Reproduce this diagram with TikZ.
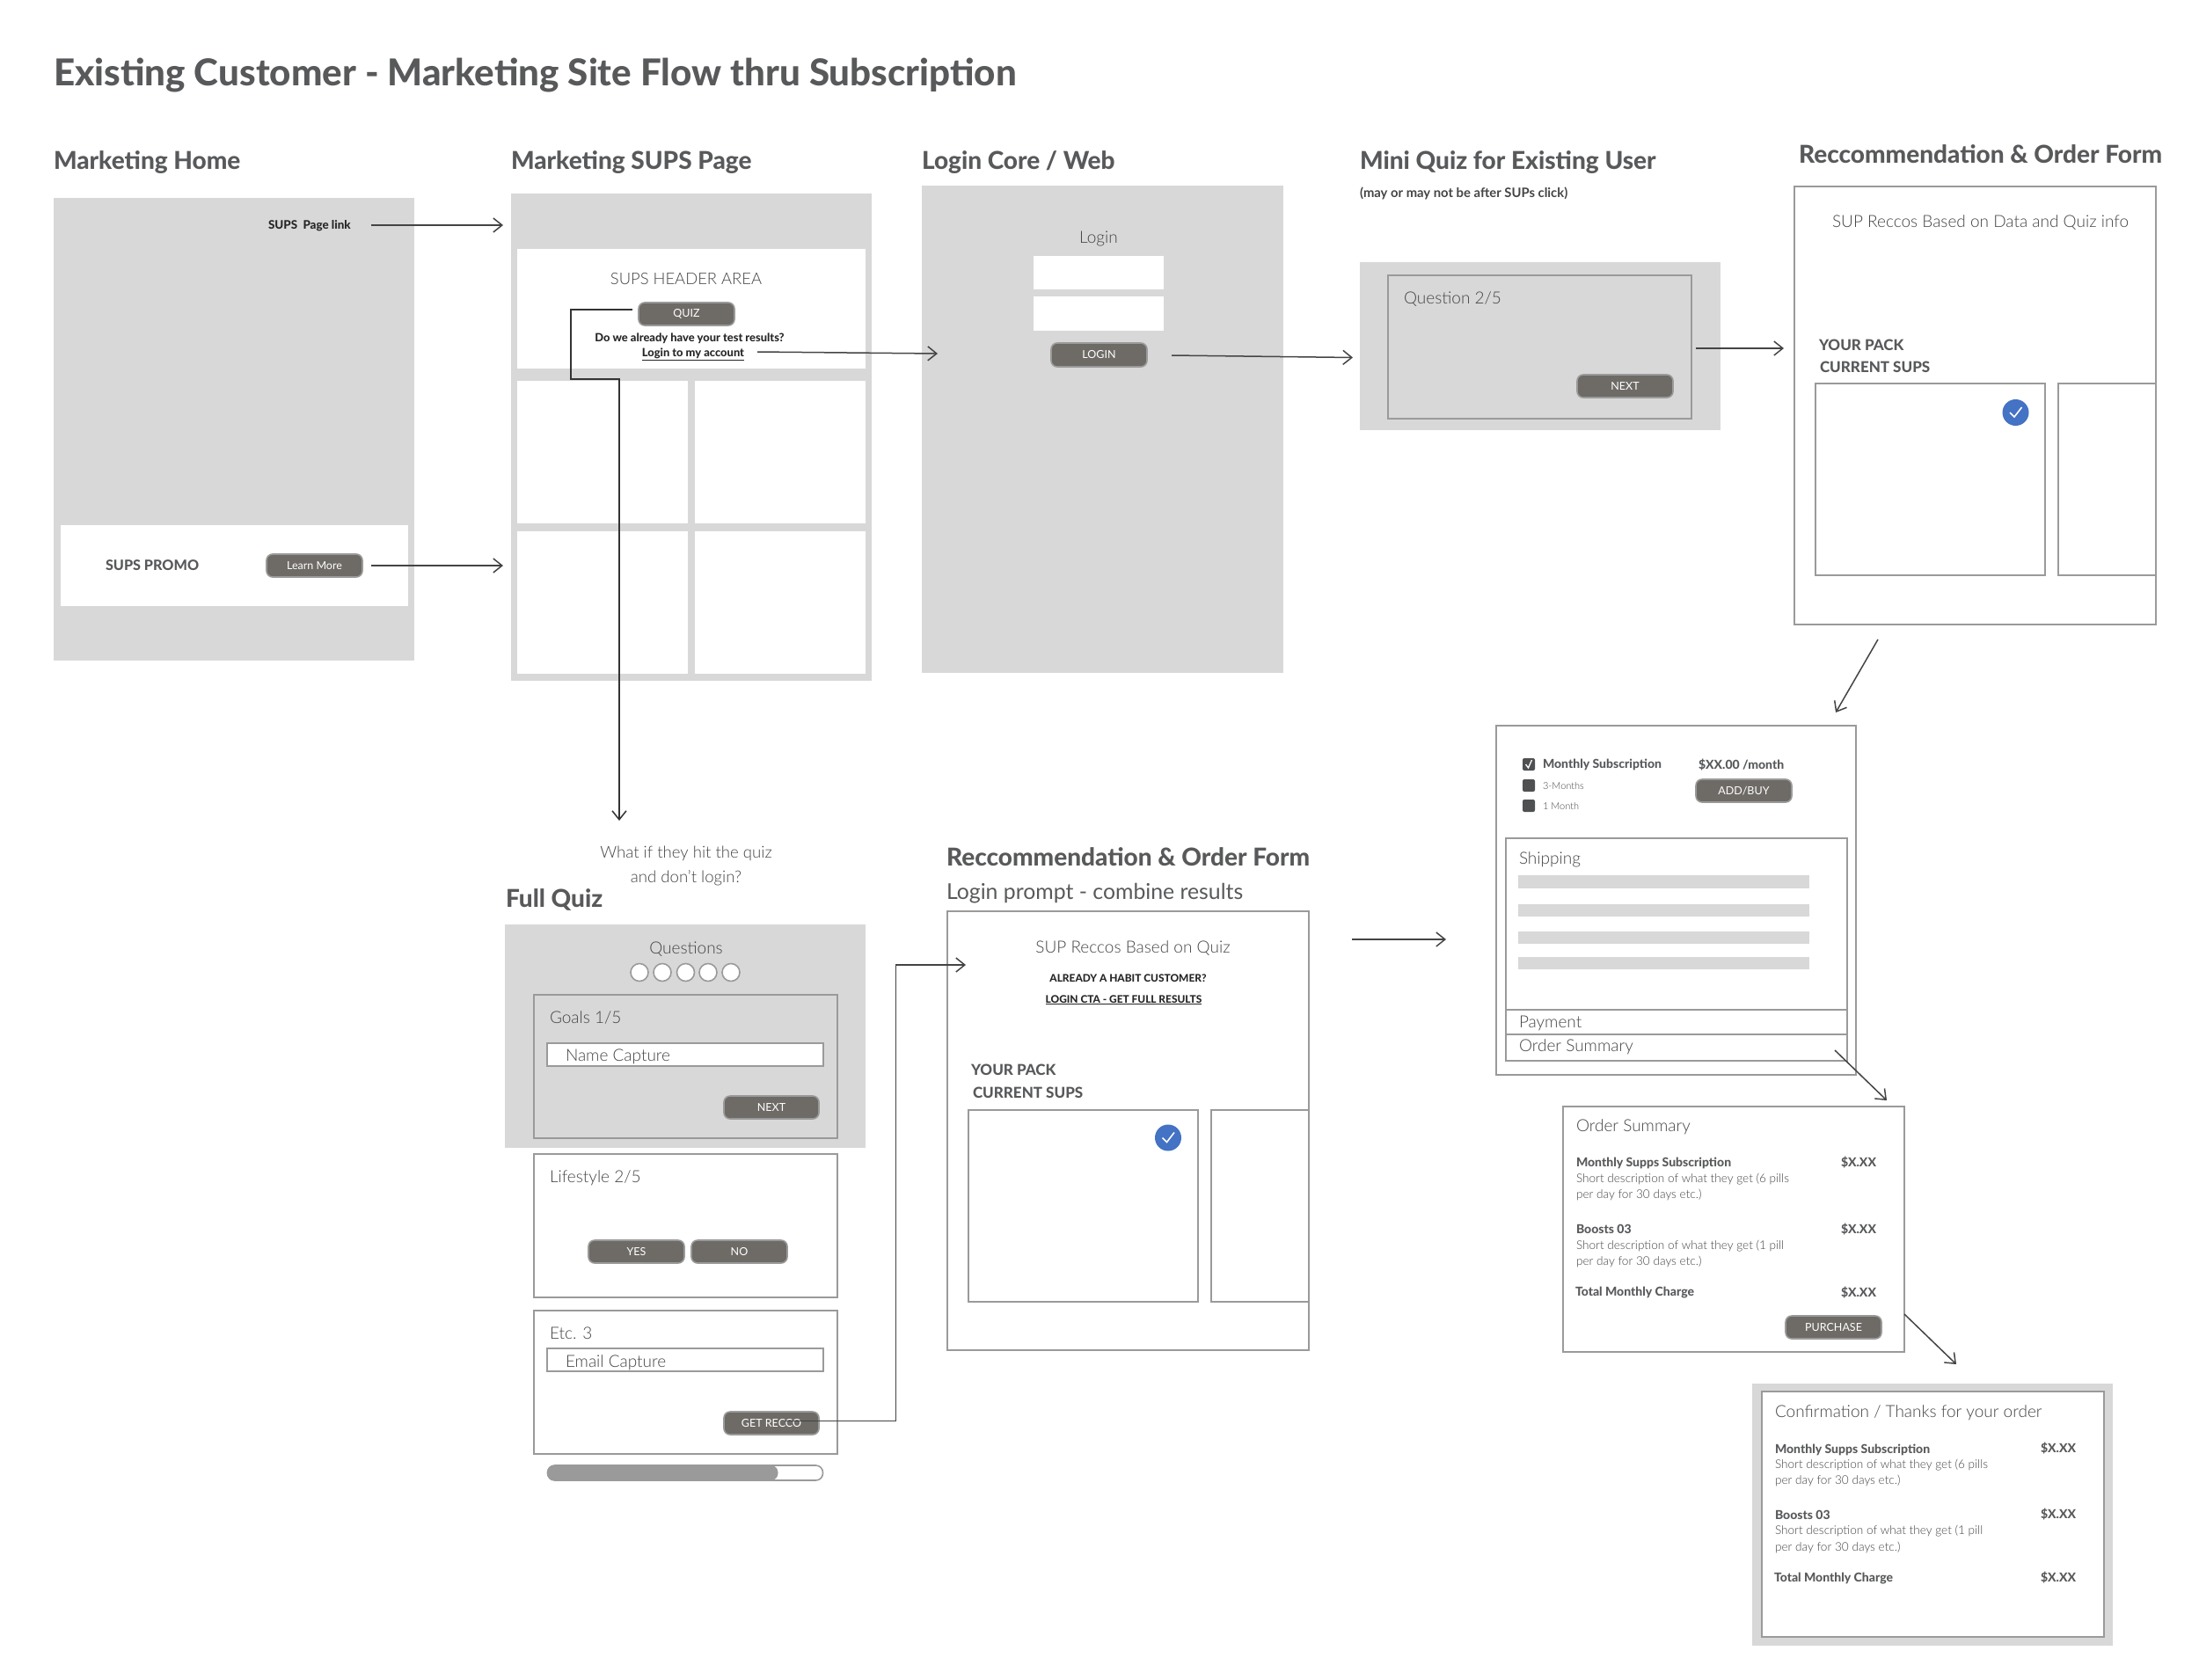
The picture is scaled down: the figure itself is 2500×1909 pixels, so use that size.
\documentclass[tikz,border=0pt]{standalone}
\usepackage{fontspec}
\usetikzlibrary{arrows.meta}
\setmainfont{Lato}
\newfontfamily\lightfont{Lato Light}
\newfontfamily\heavyfont{Lato Heavy}
\definecolor{panelgray}{HTML}{D8D8D8}
\definecolor{edgegray}{HTML}{9A9A9A}
\definecolor{btnfill}{HTML}{6E6B67}
\definecolor{inkhead}{HTML}{58595B}
\definecolor{inkbody}{HTML}{444444}
\definecolor{inkline}{HTML}{444444}
\definecolor{checkblue}{HTML}{4472C4}
\newcommand{\bx}[6]{\node[inner sep=0pt,outer sep=0pt,minimum width={(#5-#3)*1pt},minimum height={(#6-#4)*1pt},anchor=north west,#1] (#2) at (#3,#4) {};}
\newcommand{\btn}[6]{\node[buttonbox,minimum width={(#4-#2)*1pt},minimum height={(#5-#3)*1pt},anchor=north west] (#1) at (#2,#3) {#6};}
\newcommand{\tx}[5]{\node[#1] (#2) at (#3,#4) {#5};}
\newcommand{\chk}[3]{\node[checkdot] (#1) at (#2,#3) {}; \draw[white,line width=1.6pt] ([shift={(-6.5pt,0pt)}]#1.center) -- ([shift={(-1.5pt,-5pt)}]#1.center) -- ([shift={(7pt,6pt)}]#1.center);}
\tikzset{
  panel/.style={fill=panelgray},
  whitepanel/.style={fill=white},
  wire/.style={draw=edgegray,line width=1.8pt},
  wirewhite/.style={draw=edgegray,line width=1.8pt,fill=white},
  buttonbox/.style={rectangle,rounded corners=7pt,fill=btnfill,draw=edgegray,line width=1.6pt,inner sep=0pt,outer sep=0pt,text=white,font=\fontsize{12.5}{15}\selectfont},
  txtbase/.style={inner sep=0pt,outer sep=0pt,anchor=west,yshift=-0.8pt,execute at begin node={\vphantom{Ag}}},
  ttitle/.style={txtbase,text=inkhead,font=\heavyfont\fontsize{42.1}{48}\selectfont},
  thead/.style={txtbase,text=inkhead,font=\heavyfont\fontsize{28}{34}\selectfont},
  tprompt/.style={txtbase,text=inkhead,font=\fontsize{24.8}{30}\selectfont},
  tbody/.style={txtbase,text=inkbody,font=\lightfont\fontsize{19}{24}\selectfont},
  tbodyc/.style={tbody,anchor=center},
  tdesc/.style={txtbase,text=inkbody,font=\lightfont\fontsize{13.6}{17}\selectfont},
  tstrong/.style={txtbase,text=inkhead,font=\heavyfont\fontsize{14}{17}\selectfont},
  tpack/.style={txtbase,text=inkhead,font=\heavyfont\fontsize{17}{22}\selectfont},
  tblack/.style={txtbase,anchor=center,text=black!85,font=\heavyfont\fontsize{12.9}{15}\selectfont},
  tcaps/.style={tblack,font=\heavyfont\fontsize{11.9}{15}\selectfont},
  flow/.style={draw=inkline,line width=1.5pt,-{Straight Barb[length=10pt,width=16pt,line width=1.5pt]}},
  checkdot/.style={circle,fill=checkblue,draw=none,minimum size=30pt,inner sep=0pt,outer sep=0pt},
  stepdot/.style={circle,fill=white,draw=edgegray,line width=1.6pt,minimum size=20pt,inner sep=0pt,outer sep=0pt},
  squaremark/.style={rectangle,rounded corners=2pt,fill=inkhead!90!black,minimum size=14pt,inner sep=0pt,outer sep=0pt}
}
\begin{document}
\begin{tikzpicture}[x=1pt,y=-1pt]
\useasboundingbox (0,0) rectangle (2500,1909);
% Titles
\tx{ttitle}{maintitle}{61}{85}{Existing Customer - Marketing Site Flow thru Subscription}
\tx{thead}{hhome}{61}{184}{Marketing Home}
\tx{thead}{hsups}{581}{184}{Marketing SUPS Page}
\tx{thead}{hlogin}{1048}{184}{Login Core / Web}
\tx{thead}{hmini}{1546}{184}{Mini Quiz for Existing User}
\tx{tdesc,font=\bfseries\fontsize{14.8}{17}\selectfont}{hminisub}{1546}{219}{(may or may not be after SUPs click)}
\tx{thead}{hreco}{2045}{177}{Reccommendation \& Order Form}
% Marketing home
\bx{panel}{homepanel}{61}{225}{471}{751}
\bx{whitepanel}{promo}{69}{597}{464}{689}
\tx{tstrong,font=\heavyfont\fontsize{16.2}{18}\selectfont}{promotext}{120}{643}{SUPS PROMO}
\btn{learnmore}{303}{630}{412}{656}{Learn More}
\tx{tblack,anchor=west,font=\heavyfont\fontsize{13.4}{15}\selectfont}{supslink}{305}{256}{SUPS~ Page link}
% Marketing SUPS page
\bx{panel}{supspage}{581}{220}{991}{774}
\bx{whitepanel}{supshead}{588}{283}{984}{419}
\bx{whitepanel}{cella}{588}{433}{782}{595}
\bx{whitepanel}{cellb}{790}{433}{984}{595}
\bx{whitepanel}{cellc}{588}{604}{782}{766}
\bx{whitepanel}{celld}{790}{604}{984}{766}
\tx{tbodyc,font=\lightfont\fontsize{18.4}{22}\selectfont}{headarea}{780}{318}{SUPS HEADER AREA}
\btn{quizbtn}{726}{344}{835}{370}{QUIZ}
\tx{tblack}{testq}{784}{384}{Do we already have your test results?}
\tx{tblack}{loginlink}{788}{402}{\underline{Login to my account}}
% Login
\bx{panel}{loginpanel}{1048}{211}{1459}{765}
\tx{tbodyc}{logintext}{1249}{271}{Login}
\bx{whitepanel}{inputa}{1175}{291}{1323}{329}
\bx{whitepanel}{inputb}{1175}{337}{1323}{376}
\btn{loginbtn}{1195}{390}{1304}{417}{LOGIN}
% Mini quiz
\bx{panel}{minipanel}{1546}{298}{1956}{489}
\bx{wire}{minibox}{1578}{313}{1923}{476}
\tx{tbody}{miniq}{1596}{340}{Question 2/5}
\btn{mininext}{1793}{426}{1902}{452}{NEXT}
% Recommendation top
\bx{wirewhite}{recotop}{2040}{212}{2451}{710}
\tx{tbody}{recotoptext}{2083}{253}{SUP Reccos Based on Data and Quiz info}
\tx{tpack}{packa}{2068}{393}{YOUR PACK}
\tx{tpack}{packb}{2069}{418}{CURRENT SUPS}
\bx{wire}{topcarda}{2064}{436}{2325}{654}
\bx{wire}{topcardb}{2340}{436}{2451}{654}
\chk{topcheck}{2291.5}{469}
% Checkout form
\bx{wirewhite}{checkout}{1701}{825}{2110}{1222}
\bx{wire}{checkinner}{1712}{953}{2100}{1206}
\bx{wire}{rowpay}{1712}{1148}{2100}{1176}
\node[squaremark] (boxa) at (1738,869) {};
\draw[white,line width=1.3pt] ([shift={(-3.5pt,0pt)}]boxa.center) -- ([shift={(-0.5pt,-4pt)}]boxa.center) -- ([shift={(3.5pt,5pt)}]boxa.center);
\node[squaremark] (boxb) at (1738,893) {};
\node[squaremark] (boxc) at (1738,916) {};
\tx{tstrong}{planmonthly}{1754}{869}{Monthly Subscription}
\tx{tstrong}{planprice}{1931}{869}{\$XX.00 /month}
\tx{tdesc,font=\lightfont\fontsize{11}{15}\selectfont}{planthree}{1754}{894}{3-Months}
\tx{tdesc,font=\lightfont\fontsize{11}{15}\selectfont}{planone}{1754}{917}{1 Month}
\btn{addbuy}{1928}{886}{2037}{912}{ADD/BUY}
\tx{tbody}{shippingtext}{1727}{977}{Shipping}
\bx{panel}{bara}{1726}{995}{2057}{1010}
\bx{panel}{barb}{1726}{1028}{2057}{1042}
\bx{panel}{barc}{1726}{1059}{2057}{1073}
\bx{panel}{bard}{1726}{1088}{2057}{1102}
\tx{tbody}{paymenttext}{1727}{1163}{Payment}
\tx{tbody}{ordertext}{1727}{1190}{Order Summary}
% Order summary
\bx{wirewhite}{summary}{1777}{1258}{2165}{1537}
\tx{tbody}{sumtitle}{1792}{1281}{Order Summary}
\tx{tstrong}{sumsub}{1792}{1322}{Monthly Supps Subscription}
\tx{tdesc}{sumsuba}{1792}{1340}{Short description of what they get (6 pills}
\tx{tdesc}{sumsubb}{1792}{1358}{per day for 30 days etc.)}
\tx{tstrong}{sumsubp}{2093}{1321}{\$X.XX}
\tx{tstrong}{sumboost}{1792}{1398}{Boosts 03}
\tx{tdesc}{sumboosta}{1792}{1416}{Short description of what they get (1 pill}
\tx{tdesc}{sumboostb}{1792}{1434}{per day for 30 days etc.)}
\tx{tstrong}{sumboostp}{2093}{1397}{\$X.XX}
\tx{tstrong}{sumtotal}{1791}{1469}{Total Monthly Charge}
\tx{tstrong}{sumtotalp}{2093}{1469}{\$X.XX}
\btn{purchase}{2030}{1496}{2139}{1522}{PURCHASE}
% Confirmation
\bx{panel}{confpanel}{1992}{1573}{2402}{1871}
\bx{wirewhite}{confbox}{2003}{1582}{2392}{1861}
\tx{tbody}{conftitle}{2018}{1606}{Confirmation / Thanks for your order}
\tx{tstrong}{confsub}{2018}{1648}{Monthly Supps Subscription}
\tx{tdesc}{confsuba}{2018}{1665}{Short description of what they get (6 pills}
\tx{tdesc}{confsubb}{2018}{1683}{per day for 30 days etc.)}
\tx{tstrong}{confsubp}{2320}{1646}{\$X.XX}
\tx{tstrong}{confboost}{2018}{1723}{Boosts 03}
\tx{tdesc}{confboosta}{2018}{1740}{Short description of what they get (1 pill}
\tx{tdesc}{confboostb}{2018}{1759}{per day for 30 days etc.)}
\tx{tstrong}{confboostp}{2320}{1721}{\$X.XX}
\tx{tstrong}{conftotal}{2017}{1794}{Total Monthly Charge}
\tx{tstrong}{conftotalp}{2320}{1793}{\$X.XX}
% Full quiz
\tx{tbodyc,font=\lightfont\fontsize{18.6}{22}\selectfont}{whatifa}{780}{970}{What if they hit the quiz}
\tx{tbodyc,font=\lightfont\fontsize{18.6}{22}\selectfont}{whatifb}{780}{997}{and don’t login?}
\tx{thead}{hfull}{575}{1023}{Full Quiz}
\bx{panel}{quizpanel}{574}{1051}{984}{1305}
\tx{tbodyc}{questions}{780}{1079}{Questions}
\node[stepdot] (dota) at (727,1105.5) {};
\node[stepdot] (dotb) at (753,1105.5) {};
\node[stepdot] (dotc) at (779.5,1105.5) {};
\node[stepdot] (dotd) at (805,1105.5) {};
\node[stepdot] (dote) at (831,1105.5) {};
\bx{wire}{goalsbox}{607}{1131}{952}{1294}
\tx{tbody}{goalstext}{625}{1158}{Goals 1/5}
\bx{wirewhite}{nameinput}{622}{1186}{936}{1212}
\tx{tbody}{nametext}{643}{1201}{Name Capture}
\btn{goalsnext}{823}{1246}{931}{1272}{NEXT}
\bx{wire}{lifebox}{607}{1312}{952}{1475}
\tx{tbody}{lifetext}{625}{1339}{Lifestyle 2/5}
\btn{yesbtn}{669}{1410}{778}{1436}{YES}
\btn{nobtn}{786}{1410}{895}{1436}{NO}
\bx{wire}{etcbox}{607}{1490}{952}{1653}
\tx{tbody}{etctext}{625}{1517}{Etc. 3}
\bx{wirewhite}{emailinput}{622}{1533}{936}{1559}
\tx{tbody}{emailtext}{643}{1549}{Email Capture}
\btn{getrecco}{823}{1605}{931}{1631}{GET RECCO}
\node[draw=edgegray,line width=1.6pt,fill=white,rounded corners=8pt,inner sep=0pt,outer sep=0pt,minimum width=313pt,minimum height=17pt,anchor=north west] (progress) at (622.5,1666) {};
\node[fill=edgegray,rounded corners=8pt,inner sep=0pt,outer sep=0pt,minimum width=262pt,minimum height=17pt,anchor=north west] (progressfill) at (622.5,1666) {};
% Recommendation lower
\tx{thead}{hrecob}{1076}{976}{Reccommendation \& Order Form}
\tx{tprompt}{loginprompt}{1076}{1015}{Login prompt - combine results}
\bx{wirewhite}{recolow}{1077}{1036}{1488}{1535}
\tx{tbodyc}{recolowtext}{1288}{1078}{SUP Reccos Based on Quiz}
\tx{tcaps}{habitq}{1282.5}{1112}{ALREADY A HABIT CUSTOMER?}
\tx{tcaps}{habitlink}{1277.5}{1136}{\underline{LOGIN CTA - GET FULL RESULTS}}
\tx{tpack}{packc}{1104}{1217}{YOUR PACK}
\tx{tpack}{packd}{1106}{1242.5}{CURRENT SUPS}
\bx{wire}{lowcarda}{1101}{1262}{1362}{1480}
\bx{wire}{lowcardb}{1377}{1262}{1488}{1480}
\chk{lowcheck}{1328}{1293.5}
% Connectors
\coordinate (linkend) at (572,256);
\coordinate (linkstart) at (422,256);
\coordinate (promoend) at (572,643);
\coordinate (accountstart) at (861,400);
\coordinate (accountend) at (1066,402);
\coordinate (loginstart) at (1332,404);
\coordinate (miniend) at (1538,406.5);
\coordinate (ministart) at (1928,396);
\coordinate (recotopend) at (2028,396);
\coordinate (recotopstart) at (2135,727);
\coordinate (checkoutend) at (2087,810);
\coordinate (quizstart) at (719,352);
\coordinate (quizend) at (704,933);
\coordinate (reccostart) at (891.5,1615.5);
\coordinate (reccoend) at (1098,1097);
\coordinate (lowstart) at (1537,1068);
\coordinate (lowend) at (1644,1068);
\coordinate (orderstart) at (2086,1194);
\coordinate (orderend) at (2145,1251);
\coordinate (purchstart) at (2165,1494);
\coordinate (purchend) at (2224,1551);
\draw[flow] (linkstart) -- (linkend);
\draw[flow] ([xshift=10pt]learnmore.east) -- (promoend);
\draw[flow] (accountstart) -- (accountend);
\draw[flow] (loginstart) -- (miniend);
\draw[flow] (ministart) -- (recotopend);
\draw[flow] (recotopstart) -- (checkoutend);
\draw[flow,draw=black!80,line width=1.3pt] (quizstart) -| (649,431) -| (quizend);
\draw[flow] (reccostart) -| (1018.5,1097) -- (reccoend);
\draw[flow] (lowstart) -- (lowend);
\draw[flow] (orderstart) -- (orderend);
\draw[flow] (purchstart) -- (purchend);
\end{tikzpicture}
\end{document}
